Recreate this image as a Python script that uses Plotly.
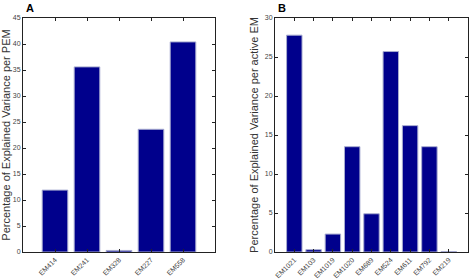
import plotly.graph_objects as go

cats_a = ["EM414", "EM241", "EM328", "EM227", "EM558"]
vals_a = [11.9, 35.6, 0.3, 23.6, 40.4]
cats_b = ["EM1021", "EM103", "EM1019", "EM1020", "EM689", "EM524", "EM611", "EM792", "EM219"]
vals_b = [27.8, 0.3, 2.3, 13.5, 4.9, 25.7, 16.2, 13.5, 0.05]
yticks_a = [0, 5, 10, 15, 20, 25, 30, 35, 40, 45]
yticks_b = [0, 5, 10, 15, 20, 25, 30]

W, H = 472, 279
M = 2
PW, PH = W - 2 * M, H - 2 * M
bar_color = "#00008C"
edge = "#a8acd0"
font = "Liberation Sans"


def dx(px):
    return (px - M) / PW


def dy(py):
    return 1 - (py - M) / PH


fig = go.Figure()
fig.add_trace(go.Bar(x=list(range(1, len(cats_a) + 1)), y=vals_a, width=0.8,
                     marker=dict(color=bar_color, line=dict(color=edge, width=1)),
                     xaxis="x", yaxis="y"))
fig.add_trace(go.Bar(x=list(range(1, len(cats_b) + 1)), y=vals_b, width=0.8,
                     marker=dict(color=bar_color, line=dict(color=edge, width=1)),
                     xaxis="x2", yaxis="y2"))

ydom = [dy(252), dy(18)]
axcommon = dict(showline=True, linecolor="#222", linewidth=1, mirror="ticks",
                ticks="inside", ticklen=3, tickcolor="#222", showgrid=False,
                zeroline=False, automargin=False,
                tickfont=dict(family=font, size=7, color="#444"))
title_font = dict(family=font, size=11, color="#333")

fig.update_layout(
    width=W, height=H, margin=dict(l=M, r=M, t=M, b=M, autoexpand=False),
    paper_bgcolor="white", plot_bgcolor="white", showlegend=False,
    xaxis=dict(domain=[dx(23), dx(215)], range=[0, len(cats_a) + 1],
               tickmode="array", tickvals=list(range(1, len(cats_a) + 1)),
               ticktext=cats_a, tickangle=-45, anchor="y", **axcommon),
    yaxis=dict(domain=ydom, range=[0, 45], tickmode="array", tickvals=yticks_a, anchor="x",
               title=dict(text="Percentage of Explained Variance per PEM", standoff=3,
                          font=title_font),
               **axcommon),
    xaxis2=dict(domain=[dx(275), dx(468)], range=[0, len(cats_b) + 1],
                tickmode="array", tickvals=list(range(1, len(cats_b) + 1)),
                ticktext=cats_b, tickangle=-45, anchor="y2", **axcommon),
    yaxis2=dict(domain=ydom, range=[0, 30], tickmode="array", tickvals=yticks_b, anchor="x2",
                title=dict(text="Percentage of Explained Variance per active EM", standoff=3,
                           font=title_font),
                **axcommon),
    annotations=[
        dict(text="<b>A</b>", x=dx(24), y=dy(8), xref="paper", yref="paper",
             xanchor="left", yanchor="middle", showarrow=False,
             font=dict(family=font, size=11, color="black")),
        dict(text="<b>B</b>", x=dx(276), y=dy(8), xref="paper", yref="paper",
             xanchor="left", yanchor="middle", showarrow=False,
             font=dict(family=font, size=11, color="black")),
    ],
)
fig.write_html("out.html")
